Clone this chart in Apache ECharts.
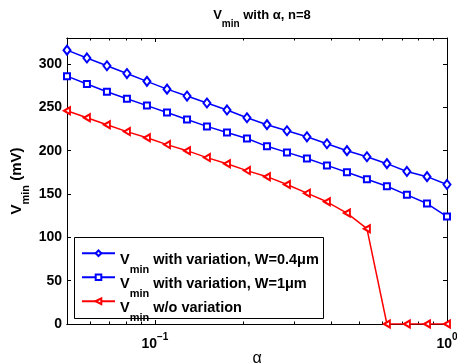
<!DOCTYPE html>
<html>
<head>
<meta charset="utf-8">
<script src="https://cdn.jsdelivr.net/npm/echarts@6/dist/echarts.min.js"></script>
<style>
  html, body { margin: 0; padding: 0; background: #fff; }
  #chart { width: 457px; height: 364px; }
</style>
</head>
<body>
<div id="chart"></div>
<script>
const alpha = [0.05, 0.0585, 0.0685, 0.0802, 0.0939, 0.11, 0.1288, 0.1507, 0.1765, 0.2066,
  0.2419, 0.2832, 0.3315, 0.3881, 0.4544, 0.5319, 0.6227, 0.729, 0.8543, 1]

const vW04 = [316, 307, 298, 289, 280, 271, 263, 255, 247, 238,
  230, 223, 216, 208, 200, 193, 185, 176, 170, 161]
const vW1 = [286, 277, 268, 260, 252, 244, 236, 228, 221, 214,
  205, 198, 191, 183, 175, 167, 159, 149, 139, 124]
const vNoVar = [246, 238, 230, 222, 215, 207, 200, 192, 185, 177,
  170, 161, 151, 141, 128, 110, 0, 0, 0, 0]

const seriesNames = [
  'with variation, W=0.4μm',
  'with variation, W=1μm',
  'w/o variation'
]

const xMajorTicks = [0.1, 1]
const xMinorTicks = [0.06, 0.07, 0.08, 0.09, 0.2, 0.3, 0.4, 0.5, 0.6, 0.7, 0.8, 0.9]
const yTicks = [0, 50, 100, 150, 200, 250, 300]

const FONT = '"Liberation Sans", Arial, Helvetica, sans-serif'
const BLUE = '#0000ff'
const RED = '#ff0000'

// V with subscript "min", then the rest of the text.
// pt = room above the V, drop = how far "min" sits below the top of V
const subRich = (size, subSize, pt, drop) => ({
  v: { fontSize: size, fontWeight: 'bold', fontFamily: FONT, color: '#000', lineHeight: size, padding: [pt, 0, 0, 0], verticalAlign: 'top' },
  s: { fontSize: subSize, fontWeight: 'bold', fontFamily: FONT, color: '#000', lineHeight: subSize, padding: [pt + drop, 0, 0, 0], verticalAlign: 'top' },
  t: { fontSize: size, fontWeight: 'bold', fontFamily: FONT, color: '#000', lineHeight: size, padding: [pt, 0, 0, 0], verticalAlign: 'top' }
})

const tickLabelRich = {
  b: { fontSize: 14, fontWeight: 'bold', fontFamily: FONT, color: '#000', lineHeight: 14, padding: [5, 0, 0, 0], verticalAlign: 'top' },
  e: { fontSize: 10, fontWeight: 'bold', fontFamily: FONT, color: '#000', lineHeight: 10, verticalAlign: 'top' }
}

const pairs = (ys) => alpha.map((a, i) => [a, ys[i]])

const xBase = {
  type: 'log',
  logBase: 10,
  min: 0.05,
  max: 1,
  gridIndex: 0,
  axisLine: { show: true, lineStyle: { color: '#000', width: 1 } },
  splitLine: { show: false },
  minorTick: { show: false }
}

const yBase = {
  type: 'value',
  min: 0,
  max: 330,
  interval: 50,
  gridIndex: 0,
  axisLine: { show: true, lineStyle: { color: '#000', width: 1 } },
  splitLine: { show: false }
}

const chart = echarts.init(document.getElementById('chart'), null, { renderer: 'canvas' })

chart.setOption({
  backgroundColor: '#fff',
  animation: false,
  textStyle: { fontFamily: FONT },
  title: {
    text: '{v|V}{s|min}{t| with α, n=8}',
    left: 257,
    top: 4,
    textAlign: 'center',
    textStyle: { rich: subRich(13, 10, 0, 10) }
  },
  grid: { left: 67, right: 10, top: 38, bottom: 40, containLabel: false, outerBoundsMode: 'none' },
  // legend frame, drawn under the legend entries
  graphic: [{
    type: 'rect',
    left: 74,
    top: 237,
    z: 3,
    shape: { width: 249, height: 81 },
    style: { fill: '#fff', stroke: '#000', lineWidth: 1 }
  }],
  xAxis: [
    {
      ...xBase,
      position: 'bottom',
      name: 'α',
      nameLocation: 'middle',
      nameGap: 27,
      nameMoveOverlap: false,
      nameTextStyle: { fontSize: 16, fontFamily: FONT, color: '#000' },
      axisTick: { show: true, inside: true, length: 4, customValues: xMajorTicks, lineStyle: { color: '#000' } },
      axisLabel: {
        show: true,
        customValues: xMajorTicks,
        margin: 8,
        formatter: (v) => '{b|10}{e|' + (Math.round(Math.log10(v)) < 0 ? '−' : '') + Math.abs(Math.round(Math.log10(v))) + '}',
        rich: tickLabelRich
      }
    },
    {
      ...xBase,
      position: 'bottom',
      axisTick: { show: true, inside: true, length: 2.5, customValues: xMinorTicks, lineStyle: { color: '#000' } },
      axisLabel: { show: false }
    },
    {
      ...xBase,
      position: 'top',
      axisTick: { show: true, inside: true, length: 4, customValues: xMajorTicks, lineStyle: { color: '#000' } },
      axisLabel: { show: false }
    },
    {
      ...xBase,
      position: 'top',
      axisTick: { show: true, inside: true, length: 2.5, customValues: xMinorTicks, lineStyle: { color: '#000' } },
      axisLabel: { show: false }
    }
  ],
  yAxis: [
    {
      ...yBase,
      position: 'left',
      name: '{v|V}{s|min}{t| (mV)}',
      nameLocation: 'middle',
      nameGap: 43,
      nameRotate: 90,
      nameMoveOverlap: false,
      nameTextStyle: { rich: subRich(15, 11, 0, 11) },
      axisTick: { show: true, inside: true, length: 4, customValues: yTicks, lineStyle: { color: '#000' } },
      axisLabel: { show: true, customValues: yTicks, margin: 5, fontSize: 14, fontWeight: 'bold', color: '#000', fontFamily: FONT }
    },
    {
      ...yBase,
      position: 'right',
      axisTick: { show: true, inside: true, length: 4, customValues: yTicks, lineStyle: { color: '#000' } },
      axisLabel: { show: false }
    }
  ],
  legend: {
    orient: 'vertical',
    left: 81,
    top: 246,
    padding: 0,
    itemGap: -5,
    itemWidth: 33,
    itemHeight: 7,
    z: 4,
    symbolRotate: 'inherit',
    data: seriesNames,
    formatter: (name) => '{v|V}{s|min}{t| ' + name + '}',
    textStyle: { rich: subRich(14.5, 11, 6, 12) }
  },
  series: [
    {
      name: seriesNames[0],
      type: 'line',
      data: pairs(vW04),
      symbol: 'emptyDiamond',
      symbolSize: [7, 9],
      color: BLUE,
      lineStyle: { width: 1.5, color: BLUE },
      itemStyle: { color: BLUE, borderWidth: 1.2 }
    },
    {
      name: seriesNames[1],
      type: 'line',
      data: pairs(vW1),
      symbol: 'emptyRect',
      symbolSize: 6,
      color: BLUE,
      lineStyle: { width: 1.5, color: BLUE },
      itemStyle: { color: BLUE, borderWidth: 1.2 }
    },
    {
      name: seriesNames[2],
      type: 'line',
      data: pairs(vNoVar),
      symbol: 'emptyTriangle',
      symbolRotate: 90,
      symbolSize: [7, 6],
      color: RED,
      lineStyle: { width: 1.5, color: RED },
      itemStyle: { color: RED, borderWidth: 1.2 }
    }
  ]
})
</script>
</body>
</html>
